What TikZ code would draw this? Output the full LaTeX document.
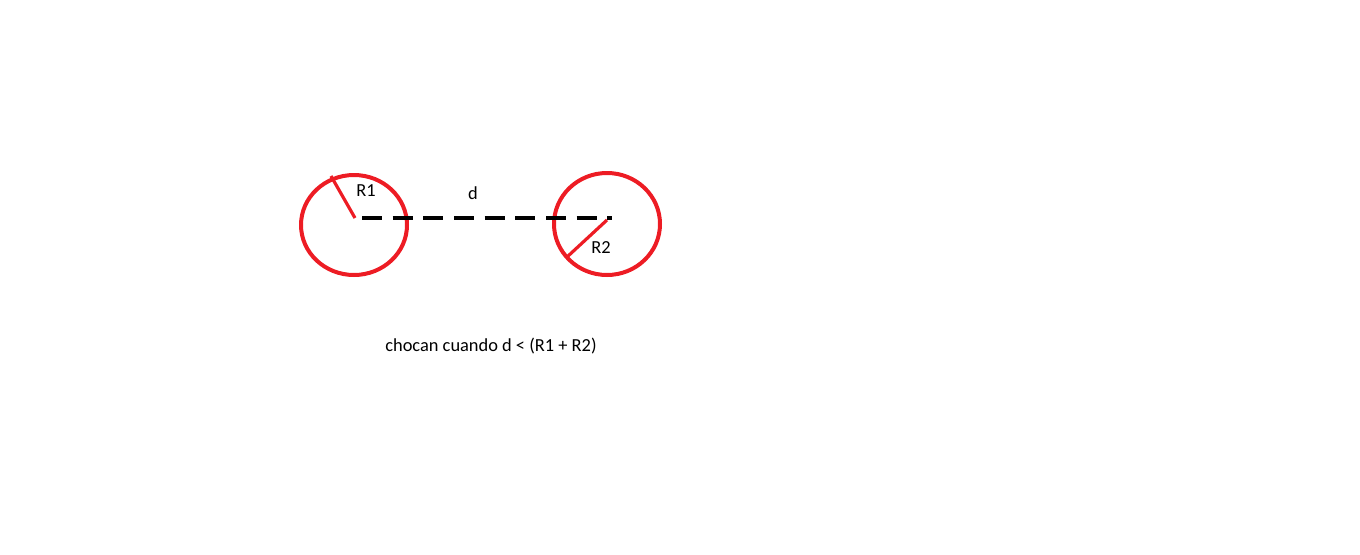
\documentclass[tikz,border=0pt]{standalone}
\usepackage{fontspec}
\setmainfont{Carlito}
\usetikzlibrary{positioning}
\definecolor{paintred}{RGB}{237,28,36}
\tikzset{every picture/.style={line width=0.75pt}}

\begin{document}
\begin{tikzpicture}[x=0.75pt,y=0.75pt,yscale=-1,xscale=1]
\tikzset{
  rim/.style={draw=paintred, line width=3pt},
  radius line/.style={draw=paintred, line width=2.4pt},
  dist line/.style={draw=black, line width=2.6pt, dash pattern=on 15pt off 8pt},
  lbl/.style={inner sep=0.75pt, font=\fontsize{13.8}{16}\selectfont}
}
\useasboundingbox (0,0) rectangle (1360,554);

%Shape: Ellipse
\draw [rim] (354,225) ellipse [x radius=53, y radius=50];
%Shape: Ellipse
\draw [rim] (607,224) ellipse [x radius=53, y radius=51];

% centres and rim points
\coordinate (o1) at (355,218);
\coordinate (p1) at (331,176);
\coordinate (o2) at (607,220);
\coordinate (p2) at (567,257);
\coordinate (d1) at (362,218);
\coordinate (d2) at (612,218);

%Straight Lines
\draw [radius line] (o1) -- (p1);
%Straight Lines
\draw [radius line] (o2) -- (p2);
%Straight Lines
\draw [dist line] (d1) -- (d2);

% Text Node
\node [lbl] (lr1) at (366,191) {R1};
% Text Node
\node [lbl] (ld) at (473,193) {d};
% Text Node
\node [lbl] (lr2) at (601,248) {R2};
% Text Node
\node [lbl] (cap) at (491,346) {chocan cuando d < (R1 + R2)};

\end{tikzpicture}
\end{document}
